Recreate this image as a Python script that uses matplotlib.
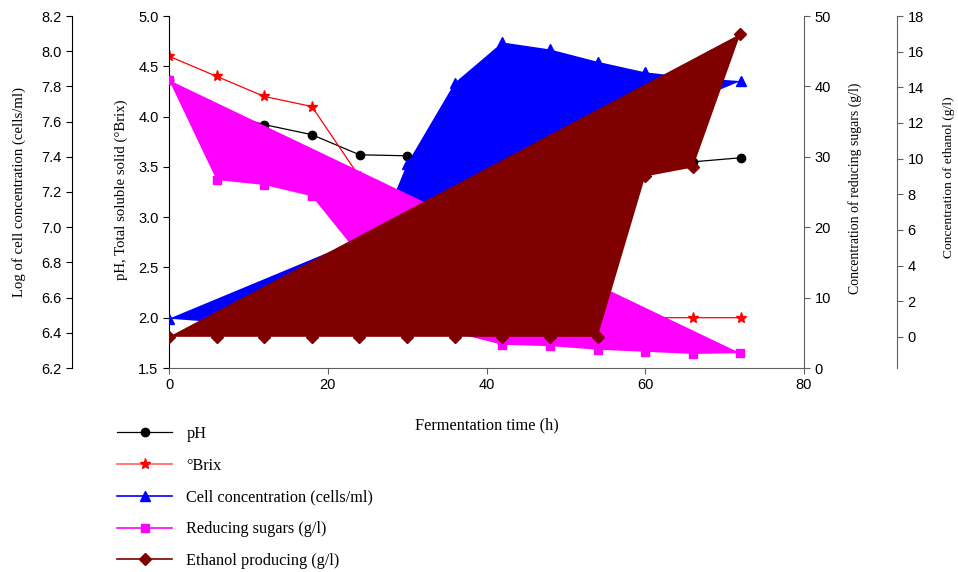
import matplotlib
matplotlib.use("Agg")
import matplotlib.pyplot as plt
from matplotlib.lines import Line2D
from matplotlib.ticker import FormatStrFormatter

# dati
time_h = [0, 6, 12, 18, 24, 30, 36, 42, 48, 54, 60, 66, 72]
ph = [4.36, 4.05, 3.92, 3.82, 3.62, 3.61, 3.60, 3.58, 3.57, 3.56, 3.55, 3.55, 3.59]
brix = [4.60, 4.40, 4.20, 4.10, 3.40, 2.60, 2.20, 2.10, 2.00, 2.00, 2.00, 2.00, 2.00]
log_cells = [6.48, 6.46, 6.50, 6.55, 6.70, 7.36, 7.82, 8.05, 8.01, 7.94, 7.88, 7.85, 7.83]
sugars = [40.9, 26.7, 26.0, 24.4, 16.0, 10.0, 5.0, 3.3, 3.1, 2.6, 2.3, 2.0, 2.1]
ethanol = [0, 0, 0, 0, 0, 0, 0, 0, 0, 0, 9.0, 9.5, 17.0]

legend_labels = ["pH", "°Brix", "Cell concentration (cells/ml)",
                 "Reducing sugars (g/l)", "Ethanol producing (g/l)"]

tick_font = "Liberation Sans"
label_font = "Liberation Serif"
grey = "#606060"

fig = plt.figure(figsize=(9.58, 5.72), dpi=100)
ax = fig.add_axes([169 / 958, 1 - 368 / 572, 635 / 958, 352 / 572])
ax_cell = ax.twinx()
ax_sug = ax.twinx()
ax_eth = ax.twinx()

# pH e Brix (sotto i poligoni)
ax.plot(time_h, ph, color="black", lw=0.9, marker="o", ms=6)
ax.plot(time_h, brix, color="red", lw=0.9, marker="*", ms=8)
ax.set_xlim(0, 80)
ax.set_ylim(1.5, 5.0)
ax.set_xticks([0, 20, 40, 60, 80])
ax.set_yticks([1.5, 2.0, 2.5, 3.0, 3.5, 4.0, 4.5, 5.0])
ax.yaxis.set_major_formatter(FormatStrFormatter("%.1f"))
ax.spines["top"].set_visible(False)
ax.spines["right"].set_visible(False)
ax.spines["bottom"].set_color(grey)
ax.tick_params(axis="x", colors=grey, labelcolor="black", length=4)
ax.tick_params(axis="y", length=4)
ax.set_xlabel("Fermentation time (h)", family=label_font, fontsize=11.8, labelpad=18)
ax.set_ylabel("pH, Total soluble solid (°Brix)", family=label_font, fontsize=10.6)
ax.yaxis.set_label_coords(-41 / 635, 0.506)

# concentrazione cellulare (asse esterno a sinistra)
ax_cell.fill(time_h, log_cells, color="#0000ff", lw=0)
ax_cell.plot(time_h, log_cells, color="#0000ff", lw=0, marker="^", ms=7)
ax_cell.set_ylim(6.2, 8.2)
ax_cell.set_yticks([6.2 + 0.2 * i for i in range(11)])
ax_cell.yaxis.set_major_formatter(FormatStrFormatter("%.1f"))
ax_cell.yaxis.set_ticks_position("left")
ax_cell.yaxis.set_label_position("left")
ax_cell.spines["left"].set_position(("axes", -97 / 635))
ax_cell.spines["left"].set_visible(True)
for s in ["right", "top", "bottom"]:
    ax_cell.spines[s].set_visible(False)
ax_cell.tick_params(axis="y", length=4)
ax_cell.set_ylabel("Log of cell concentration (cells/ml)", family=label_font, fontsize=10.6)
ax_cell.yaxis.set_label_coords(-143 / 635, 0.5)

# zuccheri riducenti
ax_sug.fill(time_h, sugars, color="#ff00ff", lw=0)
ax_sug.plot(time_h, sugars, color="#ff00ff", lw=0, marker="s", ms=6)
ax_sug.set_ylim(0, 50)
ax_sug.set_yticks([0, 10, 20, 30, 40, 50])
for s in ["left", "top", "bottom"]:
    ax_sug.spines[s].set_visible(False)
ax_sug.spines["right"].set_color(grey)
ax_sug.tick_params(axis="y", colors=grey, labelcolor="black", length=4)
ax_sug.set_ylabel("Concentration of reducing sugars (g/l)", family=label_font, fontsize=9.9)
ax_sug.yaxis.set_label_coords((848 - 169) / 635, 0.511)

# etanolo (asse esterno a destra)
ax_eth.fill(time_h, ethanol, color="#800000", lw=0)
ax_eth.plot(time_h, ethanol, color="#800000", lw=0, marker="D", ms=6)
ax_eth.set_ylim(-1.75, 18)
ax_eth.set_yticks(list(range(0, 19, 2)))
ax_eth.spines["right"].set_position(("axes", (897 - 169) / 635))
for s in ["left", "top", "bottom"]:
    ax_eth.spines[s].set_visible(False)
ax_eth.spines["right"].set_color(grey)
ax_eth.tick_params(axis="y", colors=grey, labelcolor="black", length=4)
ax_eth.set_ylabel("Concentration of ethanol (g/l)", family=label_font, fontsize=9.7)
ax_eth.yaxis.set_label_coords((943 - 169) / 635, 0.543)

for a in [ax, ax_cell, ax_sug, ax_eth]:
    a.patch.set_visible(False)
    for lbl in a.get_xticklabels() + a.get_yticklabels():
        lbl.set_family(tick_font)
        lbl.set_fontsize(10.5)

# legenda in basso a sinistra
handles = [
    Line2D([], [], color="black", lw=0.9, marker="o", ms=6),
    Line2D([], [], color="#ff6060", lw=1.2, marker="*", ms=8, mfc="red", mec="red"),
    Line2D([], [], color="#0000ff", lw=1.2, marker="^", ms=7),
    Line2D([], [], color="#ff00ff", lw=1.2, marker="s", ms=6),
    Line2D([], [], color="#800000", lw=1.2, marker="D", ms=6),
]
fig.legend(handles, legend_labels, loc="upper left",
           bbox_to_anchor=(117 / 958, 1 - 426 / 572), frameon=False,
           prop={"family": label_font, "size": 11.7}, handlelength=3.4,
           handletextpad=0.86, labelspacing=0.97, borderpad=0, borderaxespad=0)

fig.savefig("out.png", dpi=100)
